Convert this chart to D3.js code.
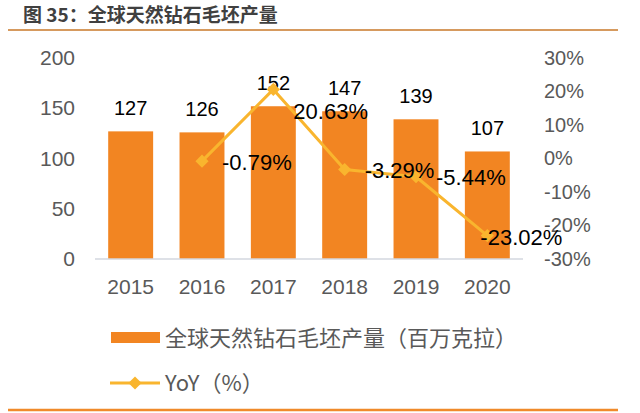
<!DOCTYPE html>
<html>
<head>
<meta charset="utf-8">
<title>全球天然钻石毛坯产量</title>
<script src="https://cdn.jsdelivr.net/npm/d3@7/dist/d3.min.js"></script>
<style>
    body {margin: 0; background: #fff;}
    text {font-family: "Liberation Sans", Arial, sans-serif;}
    .cjk {font-family: "Noto Sans CJK SC", sans-serif;}
</style>
</head>
<body>
<div id="container"></div>
<script>
// data
const years = ['2015', '2016', '2017', '2018', '2019', '2020'];
const output = [127, 126, 152, 147, 139, 107];              // 百万克拉
const yoy = [null, -0.79, 20.63, -3.29, -5.44, -23.02];     // %
const leftTicks = [0, 50, 100, 150, 200];
const rightTicks = [-30, -20, -10, 0, 10, 20, 30];

const w = 640, h = 413;
const barColor = '#F28522';
const lineColor = '#F9B52E';
const gray = '#595959';

const svg = d3.select('#container').append('svg')
    .attr('width', w)
    .attr('height', h);

// title + rules
svg.append('text')
    .attr('class', 'cjk')
    .attr('x', 23).attr('y', 15).attr('dy', '0.35em')
    .attr('font-size', 19).attr('font-weight', 'bold')
    .attr('fill', '#404040')
    .text('图 35：全球天然钻石毛坯产量');
svg.append('line')
    .attr('x1', 8).attr('x2', 618).attr('y1', 30).attr('y2', 30)
    .attr('stroke', '#D69A5E').attr('stroke-width', 2);
svg.append('line')
    .attr('x1', 8).attr('x2', 618).attr('y1', 410).attr('y2', 410)
    .attr('stroke', '#F08A2B').attr('stroke-width', 2.5);

// scales
const x = d3.scaleBand().domain(years).range([95, 523])
    .paddingInner(0.37).paddingOuter(0.185);
const y = d3.scaleLinear().domain([0, 200]).range([259, 58]);
const y2 = d3.scaleLinear().domain([-30, 30]).range([259, 58]);

// axes (labels only, Excel style)
const leftAxis = svg.append('g')
    .attr('transform', 'translate(75,0)')
    .call(d3.axisLeft(y).tickValues(leftTicks).tickSize(0).tickPadding(0));
const rightAxis = svg.append('g')
    .attr('transform', 'translate(544,0)')
    .call(d3.axisRight(y2).tickValues(rightTicks).tickSize(0).tickPadding(0)
        .tickFormat(d => d + '%'));
const bottomAxis = svg.append('g')
    .attr('transform', 'translate(0,259)')
    .call(d3.axisBottom(x).tickSize(0).tickPadding(0));

[leftAxis, rightAxis, bottomAxis].forEach(g => {
    g.select('.domain').remove();
    g.selectAll('text')
        .attr('font-family', '"Liberation Sans", Arial, sans-serif')
        .attr('font-size', 21)
        .attr('fill', gray);
});
rightAxis.selectAll('text').attr('font-size', 20);
bottomAxis.selectAll('text').attr('y', 28).attr('dy', '0.35em');

// bars
svg.append('g').selectAll('rect')
    .data(output)
    .join('rect')
    .attr('x', (d, i) => x(years[i]))
    .attr('width', x.bandwidth())
    .attr('y', d => y(d))
    .attr('height', d => y(0) - y(d))
    .attr('fill', barColor);

// baseline
svg.append('line')
    .attr('x1', 95).attr('x2', 523)
    .attr('y1', y(0)).attr('y2', y(0))
    .attr('stroke', '#D3D7DF').attr('stroke-width', 1.5);

// bar value labels
svg.append('g').selectAll('text')
    .data(output)
    .join('text')
    .attr('x', (d, i) => x(years[i]) + x.bandwidth() / 2)
    .attr('y', d => y(d) - 23)
    .attr('dy', '0.35em')
    .attr('text-anchor', 'middle')
    .attr('font-size', 20)
    .attr('fill', '#000')
    .text(d => d);

// yoy line
const pts = yoy.map((v, i) => ({year: years[i], v})).filter(d => d.v !== null);
const line = d3.line()
    .x(d => x(d.year) + x.bandwidth() / 2)
    .y(d => y2(d.v));

svg.append('path')
    .datum(pts)
    .attr('d', line)
    .attr('fill', 'none')
    .attr('stroke', lineColor)
    .attr('stroke-width', 3)
    .attr('stroke-linejoin', 'round');

const diamond = d3.symbol().type(d3.symbolDiamond2).size(110);
svg.append('g').selectAll('path')
    .data(pts)
    .join('path')
    .attr('d', diamond)
    .attr('transform', d => `translate(${x(d.year) + x.bandwidth() / 2},${y2(d.v)})`)
    .attr('fill', lineColor);

// yoy labels, hand-placed like the original
const labelShift = {'2017': [0, 22], '2020': [-27, 2]};
svg.append('g').selectAll('text')
    .data(pts)
    .join('text')
    .attr('x', d => x(d.year) + x.bandwidth() / 2 + 20 + (labelShift[d.year] ? labelShift[d.year][0] : 0))
    .attr('y', d => y2(d.v) + (labelShift[d.year] ? labelShift[d.year][1] : 1))
    .attr('dy', '0.35em')
    .attr('font-size', 22)
    .attr('fill', '#000')
    .text(d => d.v.toFixed(2) + '%');

// legend
const lg = svg.append('g');
lg.append('rect')
    .attr('x', 111).attr('y', 332).attr('width', 49).attr('height', 11)
    .attr('fill', barColor);
lg.append('text')
    .attr('class', 'cjk')
    .attr('x', 165).attr('y', 338).attr('dy', '0.35em')
    .attr('font-size', 22).attr('fill', gray)
    .text('全球天然钻石毛坯产量（百万克拉）');
lg.append('line')
    .attr('x1', 110).attr('x2', 160).attr('y1', 383).attr('y2', 383)
    .attr('stroke', lineColor).attr('stroke-width', 3);
lg.append('path')
    .attr('d', diamond)
    .attr('transform', 'translate(135,383)')
    .attr('fill', lineColor);
lg.append('text')
    .attr('class', 'cjk')
    .attr('x', 165).attr('y', 383).attr('dy', '0.35em')
    .attr('font-size', 22).attr('fill', gray)
    .text('YoY（%）');
</script>
</body>
</html>
